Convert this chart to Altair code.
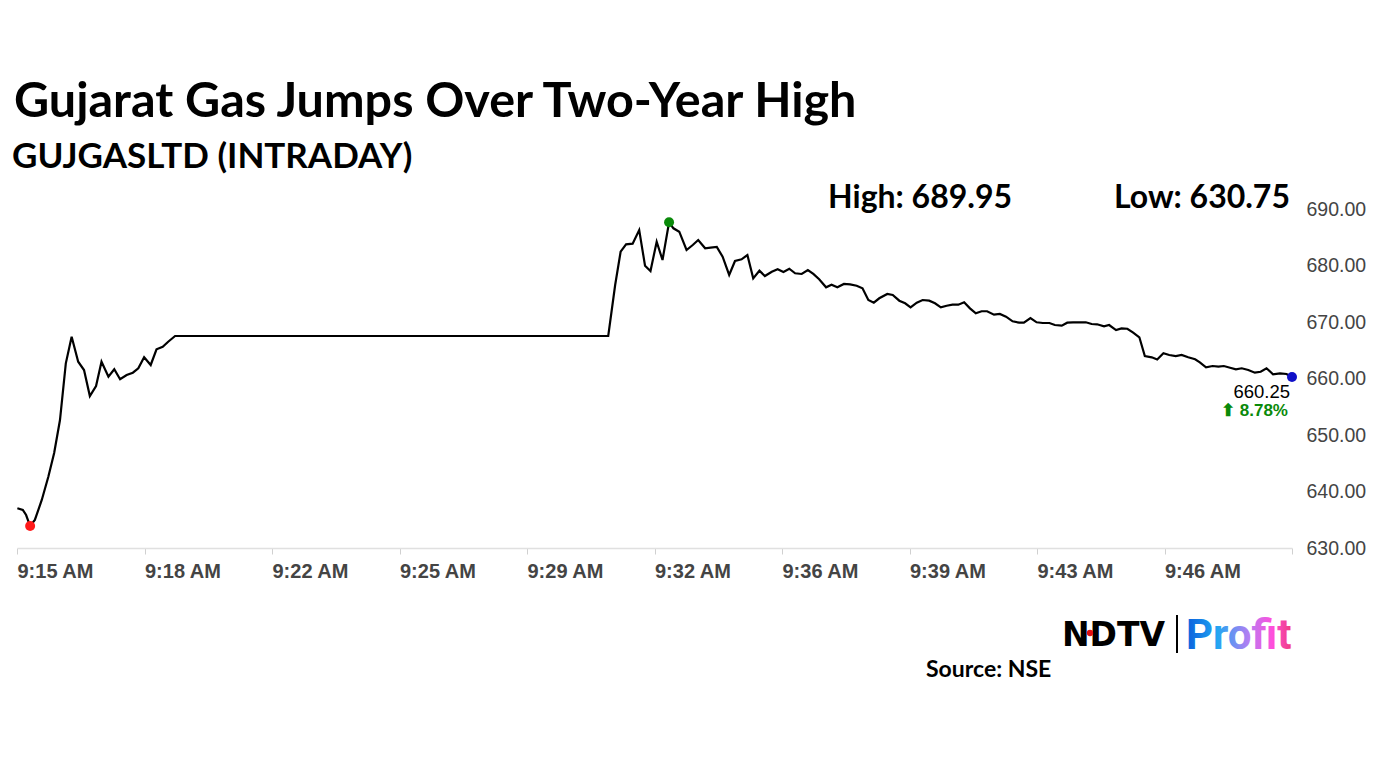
import altair as alt
import pandas as pd

# minutes after 9:15 AM and price (INR)
minutes = [0.01, 0.16, 0.25, 0.36, 0.49, 0.68, 0.86, 1.02, 1.18, 1.34, 1.50, 1.68, 1.84, 2.00,
           2.17, 2.32, 2.51, 2.67, 2.83, 3.01, 3.18, 3.33, 3.49, 3.67, 3.83, 4.00, 4.15, 4.34,
           16.23, 16.42, 16.57, 16.72, 16.90, 17.08, 17.24, 17.39, 17.56, 17.72, 17.90, 18.02,
           18.18, 18.38, 18.55, 18.70, 18.89, 19.04, 19.21, 19.37, 19.55, 19.71, 19.89, 20.05,
           20.21, 20.38, 20.53, 20.72, 20.88, 21.04, 21.20, 21.36, 21.54, 21.71, 21.86, 22.02,
           22.21, 22.36, 22.52, 22.70, 22.87, 23.05, 23.21, 23.37, 23.52, 23.67, 23.89, 24.04,
           24.22, 24.38, 24.53, 24.70, 24.86, 25.04, 25.20, 25.36, 25.52, 25.68, 25.84, 26.00,
           26.16, 26.32, 26.48, 26.63, 26.82, 26.98, 27.15, 27.33, 27.51, 27.64, 27.82, 27.99,
           28.16, 28.34, 28.49, 28.68, 28.83, 28.99, 29.18, 29.34, 29.50, 29.65, 29.84, 29.98,
           30.17, 30.32, 30.48, 30.64, 30.81, 30.96, 31.15, 31.30, 31.47, 31.63, 31.81, 31.97,
           32.15, 32.34, 32.47, 32.64, 32.82, 32.98, 33.13, 33.30, 33.46, 33.62, 33.80, 33.98,
           34.14, 34.30, 34.48, 34.67, 34.85, 35.00]
prices = [637.03, 636.73, 635.84, 633.89, 634.96, 638.50, 642.62, 646.81, 652.65, 662.69, 667.40,
          662.97, 661.50, 656.90, 658.67, 662.97, 660.32, 661.63, 659.86, 660.62, 661.03, 661.81,
          663.75, 662.39, 665.17, 665.63, 666.51, 667.52,
          667.52, 676.55, 682.44, 683.75, 683.86, 686.28, 679.96, 679.03, 684.21, 680.97, 687.65,
          686.58, 685.98, 682.74, 683.63, 684.51, 683.04, 683.15, 683.27, 681.56, 678.32, 680.80,
          681.10, 681.86, 677.73, 679.08, 678.14, 678.90, 679.33, 678.85, 679.43, 678.62, 678.50,
          679.20, 678.50, 677.56, 676.14, 676.60, 676.14, 676.73, 676.67, 676.42, 675.96, 673.89,
          673.42, 674.20, 674.96, 674.78, 673.77, 673.31, 672.60, 673.42, 673.89, 673.77, 673.31,
          672.60, 672.88, 673.06, 673.06, 673.49, 672.42, 671.54, 671.90, 671.90, 671.29, 671.42,
          670.94, 670.12, 669.88, 669.88, 670.71, 669.95, 669.82, 669.82, 669.47, 669.35, 669.88,
          669.95, 669.95, 669.95, 669.65, 669.59, 669.24, 669.47, 668.58, 668.88, 668.81, 668.11,
          667.29, 663.98, 663.75, 663.36, 664.46, 664.16, 663.98, 664.16, 663.75, 663.40, 662.87,
          661.98, 662.21, 662.09, 662.21, 661.91, 661.63, 661.81, 661.50, 661.03, 661.20, 661.81,
          660.74, 660.92, 660.80, 660.25]

x_tick_values = [0, 3.5, 7, 10.5, 14, 17.5, 21, 24.5, 28, 31.5, 35]
x_tick_labels = ["9:15 AM", "9:18 AM", "9:22 AM", "9:25 AM", "9:29 AM", "9:32 AM",
                 "9:36 AM", "9:39 AM", "9:43 AM", "9:46 AM", ""]
y_tick_values = [630, 640, 650, 660, 670, 680, 690]

title_text = "Gujarat Gas Jumps Over Two-Year High"
subtitle_text = "GUJGASLTD (INTRADAY)"
high_text = "High: 689.95"
low_text = "Low: 630.75"
last_text = "660.25"
change_text = "⬆ 8.78%"

df = pd.DataFrame({"m": minutes, "p": prices})

i_min = prices.index(min(prices))
i_max = prices.index(max(prices))
i_last = len(prices) - 1
marks_df = pd.DataFrame({
    "m": [minutes[i_min], minutes[i_max], minutes[i_last]],
    "p": [prices[i_min], prices[i_max], prices[i_last]],
    "c": ["#ff1a1a", "#0a8a0a", "#1010c8"],
})

label_array = "[" + ",".join("'" + s + "'" for s in x_tick_labels) + "]"

x_scale = alt.Scale(domain=[0, 35], nice=False, zero=False)
y_scale = alt.Scale(domain=[630, 690], nice=False, zero=False)

HEAD = "Lato"
AX = "Liberation Sans"

line = alt.Chart(df).mark_line(color="black", strokeWidth=2.2).encode(
    x=alt.X("m:Q", scale=x_scale, axis=alt.Axis(
        values=x_tick_values, labelExpr=label_array + "[round(datum.value/3.5)]",
        title=None, grid=False, domainColor="#e0e0e0", domainWidth=1.5,
        tickColor="#d0d0d0", tickSize=6, labelFont=AX, labelFontSize=20,
        labelFontWeight="bold", labelColor="#444444", labelPadding=7, labelAlign="left",
        labelFlush=False)),
    y=alt.Y("p:Q", scale=y_scale, axis=alt.Axis(
        orient="right", values=y_tick_values, format=".2f", title=None, grid=False,
        domain=False, ticks=False, labelFont=AX, labelFontSize=19.5,
        labelColor="#444444", labelPadding=14, labelFlush=False)),
)

dots = alt.Chart(marks_df).mark_circle(size=100, opacity=1).encode(
    x=alt.X("m:Q", scale=x_scale),
    y=alt.Y("p:Q", scale=y_scale),
    color=alt.Color("c:N", scale=None),
)

one = alt.Data(values=[{}])


def txt(text, x, y, size, font=HEAD, weight="bold", color="black", align="left",
        baseline="alphabetic"):
    return alt.Chart(one).mark_text(
        text=text, font=font, fontSize=size, fontWeight=weight, color=color,
        align=align, baseline=baseline,
    ).encode(x=alt.value(x), y=alt.value(y))


title = txt(title_text, -3, -92, 48.5)
subtitle = txt(subtitle_text, -5, -41, 35)
high = txt(high_text, 995, -1, 32, align="right")
low = txt(low_text, 1273, -1, 32, align="right")
last = txt(last_text, 1273, 183, 18.5, font=AX, weight="normal", align="right",
           baseline="middle")
change = txt(change_text, 1271, 202, 17, font="Liberation Sans", weight="bold",
             color="#0a8a0a", align="right", baseline="middle")
source = txt("Source: NSE", 909, 468, 23)

ndtv = txt("NDTV", 1045, 437, 33, font="DejaVu Sans", weight="bold")
ndtv_dot = alt.Chart(one).mark_circle(size=40, color="#e01010", opacity=1).encode(
    x=alt.value(1073), y=alt.value(424))
bar = alt.Chart(one).mark_rule(color="black", strokeWidth=2).encode(
    x=alt.value(1160), y=alt.value(406), y2=alt.value(444))
profit = alt.Chart(one).mark_text(
    text="Profit", font="Roboto", fontSize=42, fontWeight="bold", align="left",
    baseline="alphabetic",
    color=alt.Gradient(gradient="linear", x1=0, y1=0, x2=1, y2=0, stops=[
        alt.GradientStop(color="#0b5fdc", offset=0),
        alt.GradientStop(color="#22a6f2", offset=0.3),
        alt.GradientStop(color="#b77cf2", offset=0.6),
        alt.GradientStop(color="#ff4fdc", offset=0.82),
        alt.GradientStop(color="#ee3d7d", offset=1),
    ]),
).encode(x=alt.value(1169), y=alt.value(440))

chart = alt.layer(
    line, dots, title, subtitle, high, low, last, change, source, ndtv, ndtv_dot, bar, profit
).properties(
    width=1275, height=339,
    padding={"left": 9, "top": 201, "right": 80, "bottom": 160},
    autosize=alt.AutoSizeParams(type="none"),
    background="white",
).configure_view(stroke=None)

chart.save("out.html", embed_options={"renderer": "svg", "actions": False})
